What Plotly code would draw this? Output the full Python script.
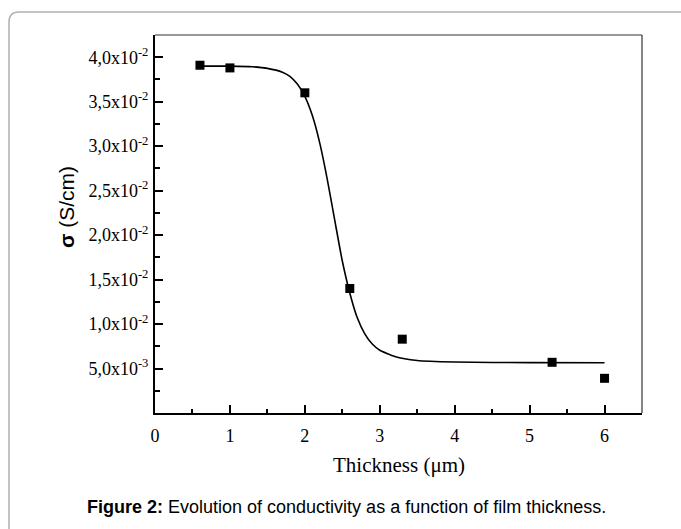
import plotly.graph_objects as go

# Measured conductivity versus film thickness
thickness_um = [0.6, 1.0, 2.0, 2.6, 3.3, 5.3, 6.0]
sigma_s_cm = [0.0391, 0.0388, 0.0360, 0.0140, 0.0083, 0.0057, 0.0039]

# Sigmoidal fit curve (sampled)
fit_x = [0.6, 1.0, 1.3, 1.5, 1.7, 1.8, 1.9, 2.0, 2.1, 2.2, 2.3, 2.4, 2.5, 2.6, 2.7,
         2.8, 2.9, 3.0, 3.2, 3.5, 4.0, 5.0, 6.0]
fit_y = [0.0390, 0.0390, 0.03893, 0.03875, 0.03832, 0.03785, 0.03698, 0.0356, 0.03344,
         0.03032, 0.02625, 0.02162, 0.01709, 0.01350, 0.01070, 0.00890, 0.00775,
         0.00705, 0.00635, 0.00590, 0.00573, 0.00566, 0.00565]

# Axis ticks
x_ticks = [0, 1, 2, 3, 4, 5, 6]
y_tick_vals = [0.005, 0.010, 0.015, 0.020, 0.025, 0.030, 0.035, 0.040]
y_tick_text = ["5,0x10<sup>-3</sup>", "1,0x10<sup>-2</sup>", "1,5x10<sup>-2</sup>",
               "2,0x10<sup>-2</sup>", "2,5x10<sup>-2</sup>", "3,0x10<sup>-2</sup>",
               "3,5x10<sup>-2</sup>", "4,0x10<sup>-2</sup>"]

W, H = 681, 529
L, R, T, B = 155, 39, 35, 116
PW, PH = W - L - R, H - T - B


def px(x):
    return (x - L) / PW


def py(y):
    return (H - B - y) / PH


serif = "Liberation Serif, Times New Roman, serif"
sans = "Liberation Sans, Arial, sans-serif"

fig = go.Figure()
fig.add_trace(go.Scatter(x=fit_x, y=fit_y, mode="lines",
                         line=dict(color="black", width=1.6, shape="spline", smoothing=0.5),
                         hoverinfo="skip", showlegend=False))
fig.add_trace(go.Scatter(x=thickness_um, y=sigma_s_cm, mode="markers",
                         marker=dict(symbol="square", size=9, color="black"),
                         showlegend=False))

fig.update_xaxes(range=[0, 6.5], tickvals=x_ticks, ticks="inside", ticklen=8, tickwidth=1.5,
                 tickcolor="black", showline=True, linecolor="black", linewidth=2,
                 showgrid=False, zeroline=False, tickfont=dict(family=serif, size=18, color="black"),
                 ticklabelstandoff=5,
                 minor=dict(dtick=0.5, ticks="inside", ticklen=4.5, tickwidth=1.5, tickcolor="black", showgrid=False))
fig.update_yaxes(range=[0, 0.0425], tickvals=y_tick_vals, ticktext=y_tick_text, ticks="inside",
                 ticklen=8, tickwidth=1.5, tickcolor="black", showline=True, linecolor="black",
                 linewidth=2, showgrid=False, zeroline=False,
                 tickfont=dict(family=serif, size=18, color="black"), ticklabelstandoff=1,
                 minor=dict(tick0=0, dtick=0.0025, ticks="inside", ticklen=4.5, tickwidth=1.5,
                            tickcolor="black", showgrid=False))

# Outer rounded panel border
r = 10
x0, y0 = 9, 12
x1, y1 = 700, 560
path = (f"M {px(x0)},{py(y1)} L {px(x0)},{py(y0 + r)} "
        f"Q {px(x0)},{py(y0)} {px(x0 + r)},{py(y0)} L {px(x1)},{py(y0)}")
shapes = [
    dict(type="path", xref="paper", yref="paper", path=path, line=dict(color="#b0b0b0", width=1.5)),
    # top and right frame lines of the plot box
    dict(type="line", xref="paper", yref="paper", x0=0, x1=1, y0=1, y1=1, line=dict(color="#333", width=1.2)),
    dict(type="line", xref="paper", yref="paper", x0=1, x1=1, y0=0, y1=1, line=dict(color="#333", width=1.2)),
]

annotations = [
    dict(text="Thickness (μm)", xref="paper", yref="paper", x=px(399), y=py(465),
         showarrow=False, font=dict(family=serif, size=21, color="black"), xanchor="center", yanchor="middle"),
    dict(text="<b>σ</b> (S/cm)", xref="paper", yref="paper", x=px(66), y=py(207), textangle=-90,
         showarrow=False, font=dict(family=sans, size=21, color="black"), xanchor="center", yanchor="middle"),
    dict(text="<b>Figure 2:</b> Evolution of conductivity as a function of film thickness.",
         xref="paper", yref="paper", x=px(346), y=py(507), showarrow=False,
         font=dict(family=sans, size=18, color="black"), xanchor="center", yanchor="middle"),
]

fig.update_layout(width=W, height=H, margin=dict(l=L, r=R, t=T, b=B),
                  paper_bgcolor="white", plot_bgcolor="white",
                  shapes=shapes, annotations=annotations)

fig.write_html("out.html")
